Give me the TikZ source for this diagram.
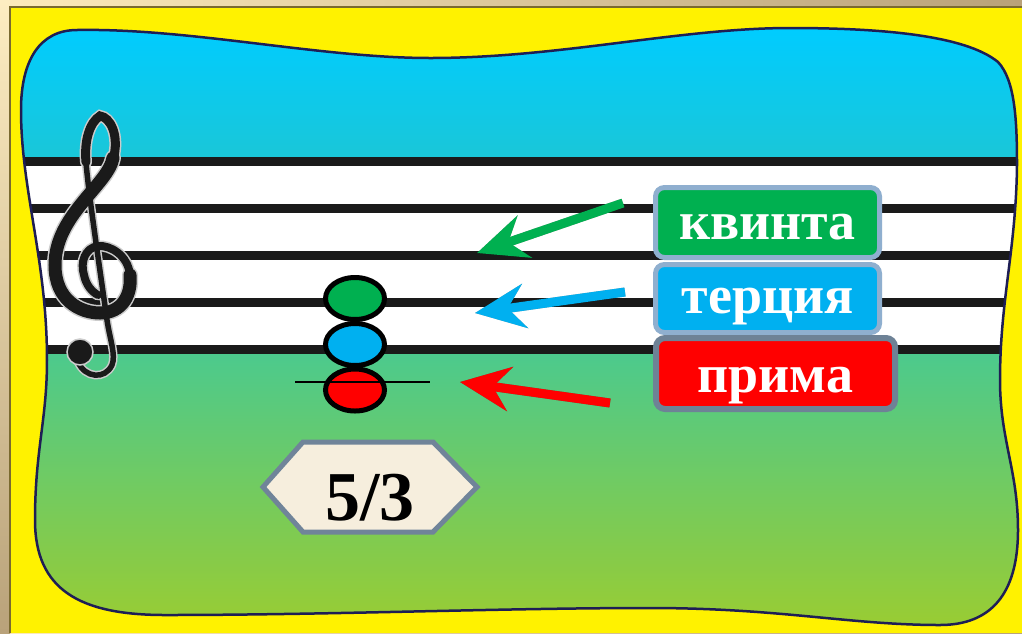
\documentclass[tikz,border=0pt]{standalone}
\usepackage{fontspec}
\setmainfont{Liberation Serif}
\usetikzlibrary{shapes.geometric,arrows.meta,calc}

\definecolor{kgreen}{HTML}{00B050}
\definecolor{kblue}{HTML}{00B0F0}
\definecolor{kred}{HTML}{FF0000}
\definecolor{boxedge}{HTML}{8FAFCF}
\definecolor{redge}{HTML}{6E8296}
\definecolor{hexfill}{HTML}{F6EEDD}
\definecolor{hexedge}{HTML}{708499}
\definecolor{blobedge}{HTML}{1E1E55}
\definecolor{framedark}{HTML}{7A6A30}
\definecolor{tanlight}{HTML}{FDEBBB}
\definecolor{tandark}{HTML}{B9A27A}
\definecolor{cbot}{rgb}{0.60,0.80,0.20}
\definecolor{cmid}{rgb}{0.30,0.79,0.55}
\definecolor{cstaff}{rgb}{0.10,0.78,0.85}
\definecolor{ctop}{rgb}{0.00,0.80,1.00}
\definecolor{clefblack}{HTML}{1A1A1A}

\pgfdeclareverticalshading{blobshade}{100bp}{color(0bp)=(cbot); color(25bp)=(cbot); color(47.6bp)=(cmid); color(64.4bp)=(cstaff); color(75bp)=(ctop); color(100bp)=(ctop)}

\tikzset{
  lbl/.style={rounded corners=9pt, line width=5pt, draw=boxedge, text=white,
    font=\bfseries\fontsize{54}{60}\selectfont, minimum width=224pt,
    minimum height=70pt, inner sep=0pt, text depth=0pt},
  note/.style={ellipse, draw=black, line width=5pt, minimum width=59pt,
    minimum height=42pt, inner sep=0pt},
  arr/.style={line width=9pt, -{Stealth[length=50pt,width=44pt,inset=17pt]}},
  arrshadow/.style={arr, draw=black, fill=black, opacity=0.35, shift={(4,6)}},
  staffline/.style={line width=9pt, clefblack},
  clefhalo/.style={draw=gray!40, line cap=round},
  clefstroke/.style={draw=clefblack, line cap=round},
}

\def\blob{(77,30) .. controls (190,28) and (320,58) .. (430,58) .. controls (560,58) and (680,28) .. (790,28) .. controls (880,28) and (965,35) .. (998,62) .. controls (1015,80) and (1017,120) .. (1017,165) .. controls (1016,250) and (1000,300) .. (1000,380) .. controls (1000,440) and (1018,470) .. (1018,530) .. controls (1018,595) and (990,625) .. (940,625) .. controls (850,625) and (780,608) .. (650,608) .. controls (500,608) and (330,615) .. (165,615) .. controls (80,615) and (35,590) .. (35,520) .. controls (35,450) and (47,420) .. (47,360) .. controls (47,260) and (21,190) .. (21,110) .. controls (21,60) and (40,30) .. (77,30) -- cycle}

\begin{document}
\begin{tikzpicture}[x=1pt,y=-1pt]
\useasboundingbox (0,0) rectangle (1022,633);
% outer frame
\shade[left color=tanlight, right color=tandark] (0,0) rectangle (1022,633);
\shade[top color=tanlight!90!white, bottom color=tandark] (0,0) rectangle (10,633);
\fill[yellow] (10,7) rectangle (1022,633);
\draw[framedark, line width=1.2pt] (10,633) -- (10,7) -- (1022,7);

% blob with staff
\begin{scope}
  \clip \blob;
  \shade[shading=blobshade] (0,28) rectangle (1022,625);
  \fill[white] (0,161) rectangle (1022,349);
  \foreach \yy in {161,208,255,302,349}
    \draw[staffline] (0,\yy) -- (1022,\yy);
\end{scope}
\draw[blobedge, line width=2.5pt] \blob;

% treble clef
\foreach \st/\ex in {clefhalo/3, clefstroke/0}{
  \draw[\st, line width=13pt+\ex pt] (113,158) .. controls (108,185) and (55,215) .. (55,265)
     .. controls (55,300) and (80,313) .. (100,313) .. controls (122,313) and (132,295) .. (130,275);
  \draw[\st, line width=8pt+\ex pt] (130,275)
     .. controls (128,255) and (110,245) .. (98,246) .. controls (85,248) and (80,262) .. (84,275)
     .. controls (86,285) and (92,292) .. (98,295);
  \draw[\st, line width=9pt+\ex pt] (113,160) .. controls (120,135) and (110,117) .. (100,116)
     .. controls (90,122) and (84,140) .. (86,162);
  \draw[\st, line width=5.5pt+\ex pt] (86,162) .. controls (88,190) and (100,270) .. (107,320)
     .. controls (110,340) and (116,355) .. (112,365) .. controls (105,380) and (85,378) .. (78,362);
}
\fill[clefblack, draw=gray!40, line width=1.5pt] (80,352) circle (13);

% notes
\node[note, fill=kgreen] (nG) at (355,298.5) {};
\node[note, fill=kblue] (nB) at (355,344.5) {};
\node[note, fill=kred] (nR) at (355,390) {};
\draw[line width=1.5pt] ($(nR.center)+(-60,-8)$) -- ($(nR.center)+(75,-8)$);

% hexagon with 5/3
\draw[hexedge, fill=hexfill, line width=5pt, line join=miter]
  (263,487) -- (303,442) -- (433,442) -- (477,487) -- (433,532) -- (303,532) -- cycle;
\node[font=\bfseries\fontsize{70}{80}\selectfont, inner sep=0pt] (ratio) at (370,498) {5/3};

% label boxes
\node[lbl, fill=kgreen, text height=33pt] (kvinta) at (767.5,222.5) {квинта};
\node[lbl, fill=kblue, minimum height=68pt, text height=30pt] (tertsia) at (767.5,298.5) {терция};
\node[lbl, fill=kred, draw=redge, line width=6pt, minimum width=239pt, minimum height=71pt, text height=38pt] (prima) at (775.5,373.5) {прима};

% arrows
\coordinate (gT) at (623,203); \coordinate (gH) at (477,253);
\coordinate (bT) at (625,292); \coordinate (bH) at (475,313);
\coordinate (rT) at (610,403); \coordinate (rH) at (460,382);
\draw[arrshadow] (gT) -- (gH);
\draw[arrshadow] (bT) -- (bH);
\draw[arrshadow] (rT) -- (rH);
\draw[arr, kgreen] (gT) -- (gH);
\draw[arr, kblue] (bT) -- (bH);
\draw[arr, kred] (rT) -- (rH);
\end{tikzpicture}
\end{document}
